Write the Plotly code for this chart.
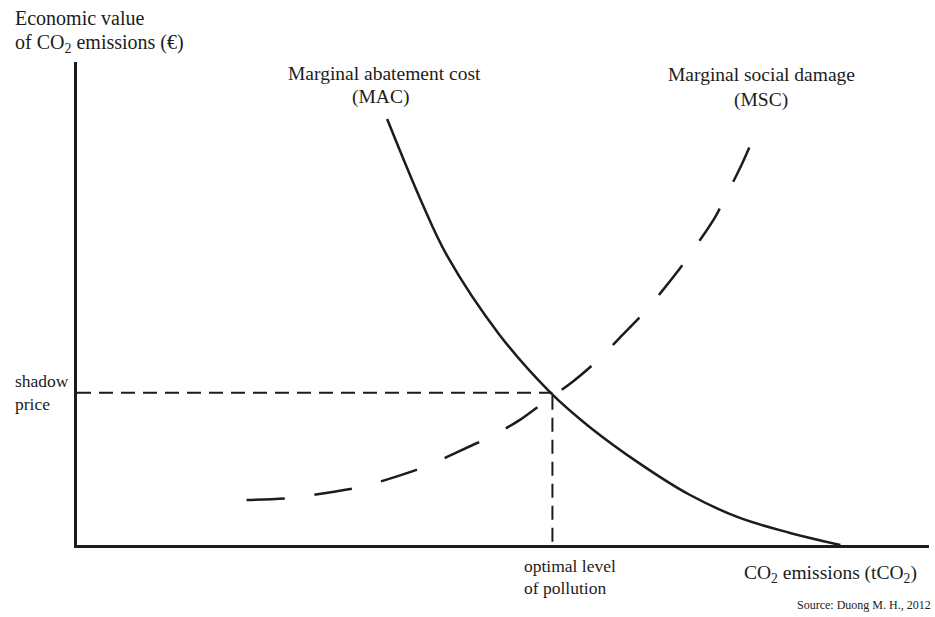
import plotly.graph_objects as go

# ---- data (arbitrary units; axes 0..100) ----
mac_x = [36.4, 40.3, 43.4, 49.6, 55.6, 60.2, 66.1, 71.9, 77.8, 83.7, 89.6]
mac_y = [88.2, 71.6, 60.0, 43.5, 31.5, 24.4, 16.8, 10.4, 5.6, 2.5, 0.0]

msc_x = [19.9, 24.8, 28.6, 33.3, 37.0, 41.4, 44.7, 48.7, 51.8, 55.3, 58.1,
         61.4, 63.7, 66.4, 68.5, 71.0, 72.8, 74.9, 76.3, 78.1, 79.9]
msc_y = [9.3, 9.7, 10.6, 12.0, 13.9, 16.6, 19.3, 22.6, 25.7, 30.2, 33.7,
         38.7, 42.9, 47.8, 52.2, 57.8, 62.3, 67.9, 72.7, 79.1, 86.5]

optimal_x = 55.8
shadow_price = 31.5

# ---- layout geometry (pixels) ----
W, H = 935, 617
L, R, T, B = 77, 929, 62, 545
INK = "#1c1c1c"
FONT = "Liberation Serif, Times New Roman, serif"


def px(x, y):
    return (x - L) / (R - L), (B - y) / (B - T)


fig = go.Figure()

fig.add_trace(go.Scatter(x=[0, optimal_x], y=[shadow_price, shadow_price], mode="lines",
                         line=dict(color=INK, width=2, dash="14px,8px"), cliponaxis=False,
                         hoverinfo="skip"))
fig.add_trace(go.Scatter(x=[optimal_x, optimal_x], y=[shadow_price - 0.6, 0], mode="lines",
                         line=dict(color=INK, width=2, dash="14px,8px"), cliponaxis=False,
                         hoverinfo="skip"))
fig.add_trace(go.Scatter(x=mac_x, y=mac_y, mode="lines", line_shape="spline",
                         line=dict(color=INK, width=2.5, smoothing=1), cliponaxis=False,
                         name="MAC"))
fig.add_trace(go.Scatter(x=msc_x, y=msc_y, mode="lines", line_shape="spline",
                         line=dict(color=INK, width=2.5, dash="38px,30px", smoothing=0.9),
                         cliponaxis=False, name="MSC"))


def label(text, x, y, size, xanchor="left"):
    xp, yp = px(x, y)
    fig.add_annotation(text=text, x=xp, y=yp, xref="paper", yref="paper",
                       xanchor=xanchor, yanchor="middle", showarrow=False,
                       font=dict(family=FONT, size=size, color=INK))


label("Economic value", 13, 18, 20)
label("of CO<sub>2</sub> emissions (€)", 13, 44, 20)
label("Marginal abatement cost", 384, 73, 19.5, "center")
label("(MAC)", 380, 97, 19.5, "center")
label("Marginal social damage", 761, 75, 19.5, "center")
label("(MSC)", 761, 100, 19.5, "center")
label("shadow", 13, 381, 17.5)
label("price", 13, 404, 17.5)
label("optimal level", 522, 566, 17.5)
label("of pollution", 522, 588, 17.5)
label("CO<sub>2</sub> emissions (tCO<sub>2</sub>)", 830, 574, 19.5, "center")
label("Source: Duong M. H., 2012", 933, 605, 12, "right")

axis_common = dict(showgrid=False, zeroline=False, showticklabels=False, ticks="",
                   showline=True, linecolor=INK, linewidth=3, fixedrange=True)
fig.update_xaxes(range=[0, 100], **axis_common)
fig.update_yaxes(range=[0, 100], **axis_common)

fig.update_layout(width=W, height=H, showlegend=False,
                  margin=dict(l=L, r=W - R, t=T, b=H - B),
                  paper_bgcolor="white", plot_bgcolor="white")

fig.write_html("out.html", config={"displayModeBar": False},
               post_script="document.body.style.margin='0';document.body.style.overflow='hidden';")
